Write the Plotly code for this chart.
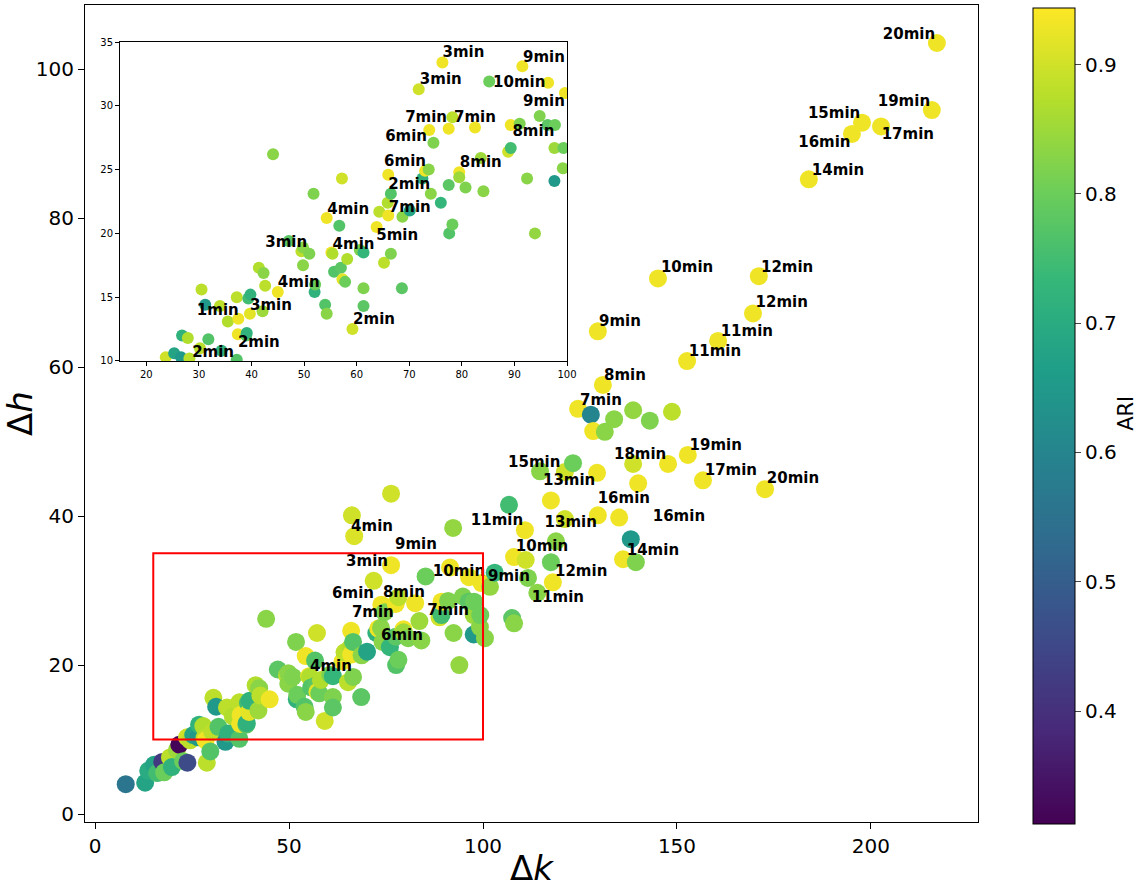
import plotly.graph_objects as go

# Δk, Δh and ARI for each run
dk = [7.9, 12.9, 13.7, 15.2, 16.0, 17.3, 17.8, 19.3, 19.8, 21.1,
      21.7, 22.7, 23.8, 23.7, 24.5, 25.3, 26.6, 26.8, 27.9, 28.2,
      28.5, 28.8, 29.7, 30.2, 30.5, 31.2, 31.8, 33.6, 34.0, 34.3,
      35.5, 37.2, 37.2, 37.4, 37.5, 39.0, 39.1, 39.4, 39.7, 39.8,
      41.4, 42.1, 42.3, 42.6, 44.1, 45.0, 47.1, 49.5, 49.8, 49.8,
      51.0, 51.8, 52.0, 52.1, 54.0, 54.3, 54.3, 55.2, 55.4, 55.7,
      56.7, 57.0, 57.2, 57.3, 57.8, 58.2, 59.2, 60.6, 61.3, 61.3,
      61.3, 63.8, 64.3, 65.2, 65.9, 66.0, 66.0, 66.2, 66.5, 66.5,
      66.8, 68.6, 68.7, 70.1, 71.8, 72.5, 73.0, 73.7, 73.8, 74.1,
      74.6, 76.0, 76.3, 76.3, 77.5, 77.5, 77.6, 78.2, 78.2, 79.5,
      79.5, 80.7, 82.5, 83.6, 84.1, 85.2, 88.8, 89.3, 89.3, 91.0,
      91.5, 92.3, 92.4, 93.9, 94.8, 96.3, 96.4, 97.6, 97.6, 97.7,
      99.2, 99.3, 100.5, 99.6, 101.8, 103.0, 106.7, 107.5, 108.0, 108.0,
      110.8, 111.0, 111.6, 114.0, 114.7, 117.5, 117.5, 118.0, 118.8, 121.1,
      121.1, 123.2, 124.5, 127.8, 128.4, 129.4, 129.6, 129.6, 130.9, 131.4,
      133.8, 135.1, 136.1, 138.1, 138.7, 138.7, 139.4, 140.0, 143.0, 145.1,
      147.7, 148.7, 152.6, 152.8, 156.7, 160.6, 169.6, 171.1, 172.7, 184.0,
      195.1, 197.7, 202.6, 215.7, 217.0]
dh = [4.0, 4.2, 5.8, 6.6, 5.5, 7.0, 5.6, 7.6, 6.3, 8.6,
      9.3, 7.1, 6.9, 10.3, 9.9, 10.6, 10.3, 12.0, 11.8, 10.2,
      9.9, 6.9, 8.4, 11.0, 15.6, 14.4, 11.7, 9.7, 14.3, 10.8,
      13.1, 10.1, 15.0, 12.1, 13.3, 12.0, 12.2, 14.9, 13.7, 15.2,
      17.3, 13.9, 16.9, 15.9, 26.2, 15.4, 19.4, 18.6, 18.9, 17.5,
      18.4, 23.1, 15.4, 16.0, 14.4, 13.7, 21.2, 18.5, 18.4, 17.0,
      20.6, 17.3, 24.3, 16.4, 16.2, 18.0, 12.5, 18.7, 18.5, 15.7,
      14.3, 20.5, 21.7, 17.7, 22.4, 21.4, 24.6, 40.1, 18.4, 23.1,
      37.3, 15.7, 21.3, 21.8, 31.3, 24.3, 24.9, 25.0, 28.1, 23.1,
      27.1, 22.4, 33.4, 43.0, 23.8, 28.2, 20.0, 29.1, 20.7, 24.8,
      24.4, 23.6, 28.3, 25.9, 23.3, 31.9, 26.4, 26.7, 28.5, 28.6,
      33.1, 38.4, 24.3, 20.0, 29.2, 28.5, 31.8, 26.7, 24.1, 28.5,
      25.1, 26.7, 23.6, 31.0, 30.5, 32.4, 41.5, 26.3, 25.6, 34.5,
      38.1, 34.1, 31.7, 29.7, 46.0, 42.1, 33.8, 31.1, 36.6, 45.9,
      39.6, 47.1, 54.4, 53.6, 51.4, 45.8, 64.8, 40.1, 57.6, 51.3,
      53.0, 39.8, 34.2, 36.9, 54.2, 47.0, 33.8, 44.4, 52.8, 71.9,
      47.0, 54.0, 60.8, 48.2, 44.8, 63.5, 67.2, 72.2, 43.6, 85.2,
      91.3, 92.8, 92.3, 94.5, 103.5]
ari = [0.56, 0.68, 0.70, 0.68, 0.75, 0.42, 0.80, 0.88, 0.72, 0.85,
       0.32, 0.80, 0.46, 0.90, 0.88, 0.68, 0.65, 0.72, 0.87, 0.88,
       0.93, 0.88, 0.77, 0.88, 0.88, 0.65, 0.77, 0.65, 0.88, 0.72,
       0.87, 0.77, 0.88, 0.93, 0.93, 0.78, 0.72, 0.75, 0.92, 0.72,
       0.87, 0.85, 0.83, 0.88, 0.83, 0.93, 0.78, 0.88, 0.83, 0.83,
       0.82, 0.82, 0.72, 0.80, 0.77, 0.83, 0.93, 0.93, 0.87, 0.77,
       0.77, 0.78, 0.90, 0.92, 0.80, 0.87, 0.90, 0.82, 0.73, 0.82,
       0.78, 0.93, 0.88, 0.88, 0.87, 0.93, 0.93, 0.90, 0.82, 0.77,
       0.91, 0.78, 0.83, 0.68, 0.90, 0.72, 0.93, 0.83, 0.93, 0.83,
       0.82, 0.73, 0.93, 0.90, 0.78, 0.93, 0.77, 0.88, 0.80, 0.93,
       0.85, 0.82, 0.93, 0.85, 0.83, 0.80, 0.90, 0.75, 0.93, 0.82,
       0.93, 0.84, 0.83, 0.84, 0.82, 0.78, 0.93, 0.85, 0.65, 0.80,
       0.83, 0.80, 0.83, 0.93, 0.84, 0.73, 0.75, 0.78, 0.83, 0.93,
       0.93, 0.90, 0.82, 0.83, 0.83, 0.93, 0.80, 0.93, 0.83, 0.90,
       0.90, 0.80, 0.93, 0.60, 0.93, 0.93, 0.93, 0.93, 0.93, 0.83,
       0.83, 0.93, 0.93, 0.65, 0.84, 0.90, 0.82, 0.93, 0.82, 0.93,
       0.93, 0.88, 0.93, 0.93, 0.93, 0.93, 0.93, 0.93, 0.93, 0.93,
       0.93, 0.93, 0.93, 0.93, 0.93]

# annotations on the main axes (text anchor in data units)
main_lbl = ['20min', '19min', '17min', '15min', '16min', '14min',
            '10min', '12min', '12min', '11min', '11min', '9min', '8min', '7min',
            '15min', '18min', '19min', '17min', '20min', '13min', '16min', '16min',
            '13min', '10min', '14min', '12min', '11min', '11min',
            '4min', '9min', '3min', '10min', '9min', '6min', '8min',
            '7min', '7min', '6min', '4min']
main_lbl_k = [209.8, 208.5, 209.5, 190.5, 188.0, 191.5,
              152.6, 178.4, 177.0, 168.0, 159.8, 135.3, 136.6, 130.4,
              113.2, 140.5, 160.0, 163.9, 179.9, 122.2, 136.3, 150.5,
              122.6, 115.2, 143.8, 125.3, 119.3, 103.6,
              71.4, 82.7, 70.1, 93.8, 106.7, 66.5, 79.6,
              71.6, 91.0, 79.1, 60.8]
main_lbl_h = [104.6, 95.6, 91.1, 94.0, 90.1, 86.3,
              73.2, 73.3, 68.5, 64.7, 62.0, 66.0, 58.7, 55.4,
              47.1, 48.2, 49.4, 46.0, 45.0, 44.7, 42.3, 39.8,
              39.1, 35.8, 35.3, 32.5, 28.9, 39.3,
              38.5, 36.1, 33.8, 32.5, 31.8, 29.5, 29.7,
              27.0, 27.2, 23.8, 19.7]

# annotations in the zoomed inset
inset_lbl = ['3min', '9min', '3min', '10min', '9min', '7min', '7min', '6min',
             '8min', '6min', '8min', '2min', '4min', '7min', '5min', '4min',
             '2min', '3min', '4min', '3min', '1min', '2min', '2min']
inset_lbl_k = [80.3, 95.6, 76.0, 90.9, 95.6, 73.2, 82.5, 69.4,
               93.6, 69.2, 83.6, 70.0, 58.4, 70.1, 67.7, 59.4,
               63.3, 46.6, 49.0, 43.7, 33.6, 41.4, 32.7]
inset_lbl_h = [34.1, 33.7, 32.0, 31.8, 30.3, 29.0, 29.0, 27.5,
               27.9, 25.6, 25.5, 23.8, 21.8, 22.0, 19.8, 19.1,
               13.2, 19.2, 16.1, 14.3, 13.9, 11.4, 10.6]

# zoom window shown in the inset
zoom_k = [15, 100]
zoom_h = [10, 35]

ARI_MIN, ARI_MAX = 0.313, 0.944
FONT = 'DejaVu Sans'

fig = go.Figure()

fig.add_trace(go.Scatter(
    x=dk, y=dh, mode='markers',
    marker=dict(size=18, color=ari, colorscale='Viridis', cmin=ARI_MIN, cmax=ARI_MAX,
                line=dict(width=0),
                colorbar=dict(x=1.0616, xanchor='left', y=-0.002, yanchor='bottom',
                              len=0.999, ypad=0, xpad=0, thickness=42,
                              outlinewidth=1, outlinecolor='black',
                              ticks='outside', ticklen=6, tickvals=[0.4, 0.5, 0.6, 0.7, 0.8, 0.9],
                              tickfont=dict(family=FONT, size=20, color='black'))),
    showlegend=False, hoverinfo='skip'))

fig.add_trace(go.Scatter(
    x=main_lbl_k, y=main_lbl_h, mode='text', text=main_lbl,
    textfont=dict(family=FONT, size=15, color='black', weight='bold'),
    cliponaxis=False, showlegend=False, hoverinfo='skip'))

fig.add_trace(go.Scatter(
    x=dk, y=dh, mode='markers', xaxis='x2', yaxis='y2',
    marker=dict(size=12, color=ari, colorscale='Viridis', cmin=ARI_MIN, cmax=ARI_MAX,
                line=dict(width=0), showscale=False),
    showlegend=False, hoverinfo='skip'))

fig.add_trace(go.Scatter(
    x=inset_lbl_k, y=inset_lbl_h, mode='text', text=inset_lbl, xaxis='x2', yaxis='y2',
    textfont=dict(family=FONT, size=15, color='black', weight='bold'),
    cliponaxis=False, showlegend=False, hoverinfo='skip'))

fig.add_shape(type='rect', xref='x', yref='y',
              x0=zoom_k[0], x1=zoom_k[1], y0=zoom_h[0], y1=zoom_h[1],
              line=dict(color='red', width=2))

# colorbar label
fig.add_annotation(text='ARI', xref='paper', yref='paper', x=1.165, y=0.5,
                   xanchor='center', yanchor='middle', showarrow=False, textangle=-90,
                   font=dict(family=FONT, size=21, color='black'))

axis_style = dict(showgrid=False, zeroline=False, showline=True, mirror=True,
                  linecolor='black', linewidth=1, ticks='outside', tickcolor='black',
                  tickwidth=1)

fig.update_layout(
    width=1143, height=888,
    margin=dict(l=85, r=165, t=5, b=66, autoexpand=False),
    plot_bgcolor='white', paper_bgcolor='white',
    font=dict(family=FONT, color='black'),
    xaxis=dict(range=[-2.6, 227.6], tickvals=[0, 50, 100, 150, 200], ticklen=6,
               tickfont=dict(size=20), automargin=False,
               title=dict(text='Δ<i>k</i>', font=dict(size=34), standoff=0),
               **axis_style),
    yaxis=dict(range=[-1.07, 108.6], tickvals=[0, 20, 40, 60, 80, 100], ticklen=6,
               tickfont=dict(size=20), automargin=False,
               title=dict(text='Δ<i>h</i>', font=dict(size=34), standoff=8),
               **axis_style),
    xaxis2=dict(domain=[0.0392, 0.5398], anchor='y2', range=zoom_k,
                tickvals=[20, 30, 40, 50, 60, 70, 80, 90, 100], ticklen=4,
                tickfont=dict(size=10), automargin=False, **axis_style),
    yaxis2=dict(domain=[0.5643, 0.9547], anchor='x2', range=zoom_h,
                tickvals=[10, 15, 20, 25, 30, 35], ticklen=4,
                tickfont=dict(size=10), automargin=False, **axis_style),
)

fig.write_html("out.html", config={'displayModeBar': False},
               post_script="document.body.style.margin='0';")
